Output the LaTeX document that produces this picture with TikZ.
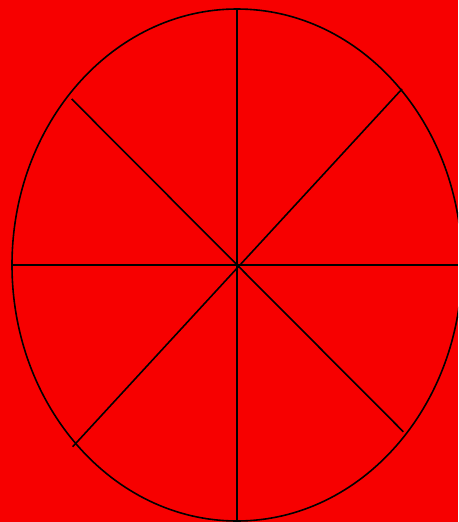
\documentclass[tikz,border=0pt]{standalone}
\definecolor{bgred}{RGB}{247,0,0}
\tikzset{spoke/.style={black,line width=1.6pt}}
\begin{document}
\begin{tikzpicture}[x=1pt,y=-1pt]
\fill[bgred] (0,0) rectangle (458,522);
\useasboundingbox (0,0) rectangle (458,522);
\coordinate (c) at (237,265);
\begin{scope}
\clip (0,0) rectangle (458,522);
\draw[spoke] (c) ellipse [x radius=225, y radius=256];
\draw[spoke] (237,9) -- (237,522);
\draw[spoke] (12,265) -- (458,265);
\draw[spoke] (402,89) -- (72.7,446.7);
\draw[spoke] (71.7,99) -- (403.3,431.7);
\end{scope}
\end{tikzpicture}
\end{document}
